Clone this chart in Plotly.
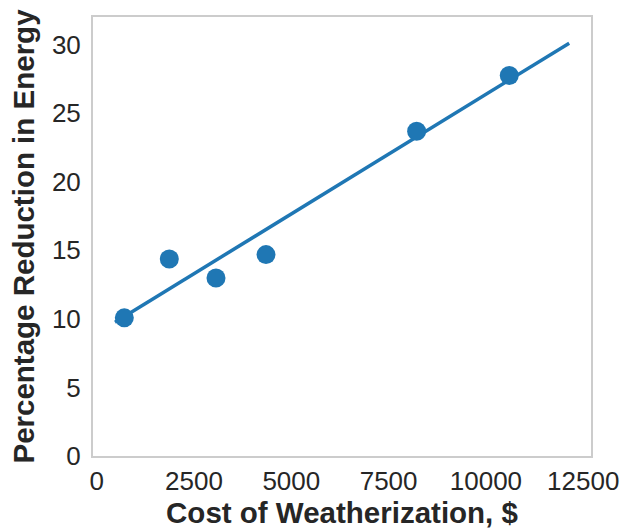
import plotly.graph_objects as go

# Weatherization spending vs. energy reduction per household
cost_usd = [710, 1865, 3065, 4350, 8220, 10600]
energy_reduction_pct = [10.07, 14.36, 12.98, 14.68, 23.67, 27.73]

# Least-squares trend line endpoints
trend_x = [470, 12140]
trend_y = [9.75, 30.09]

x_ticks = [0, 2500, 5000, 7500, 10000, 12500]
x_tick_labels = ["0", "2500", "5000", "7500", "10000", "12500"]
y_ticks = [0, 5, 10, 15, 20, 25, 30]

BLUE = "#1f77b4"
TEXT = "#262626"
FONT = "Liberation Sans, Arial, sans-serif"

fig = go.Figure()
fig.add_trace(go.Scatter(
    x=trend_x, y=trend_y, mode="lines",
    line=dict(color=BLUE, width=3.5), hoverinfo="skip", showlegend=False,
))
fig.add_trace(go.Scatter(
    x=cost_usd, y=energy_reduction_pct, mode="markers",
    marker=dict(color=BLUE, size=19, line=dict(width=0)), showlegend=False,
))

axis_common = dict(
    showgrid=False, zeroline=False, automargin=False,
    showline=True, mirror=True, linecolor="#cccccc", linewidth=2,
    ticks="outside", tickcolor="rgba(0,0,0,0)",
    tickfont=dict(family=FONT, size=26, color=TEXT),
)

fig.update_layout(
    width=626, height=531,
    margin=dict(l=93, r=35, t=17, b=75),
    paper_bgcolor="white", plot_bgcolor="white",
    xaxis=dict(
        range=[-95, 12700], tickvals=x_ticks, ticktext=x_tick_labels, ticklen=1,
        title=dict(text="<b>Cost of Weatherization, $</b>", standoff=6,
                   font=dict(family=FONT, size=29.5, color=TEXT)),
        **axis_common,
    ),
    yaxis=dict(
        range=[0, 32], tickvals=y_ticks, ticklen=5,
        title=dict(text="<b>Percentage Reduction in Energy</b>", standoff=9,
                   font=dict(family=FONT, size=29.5, color=TEXT)),
        **axis_common,
    ),
)

fig.write_html("out.html")
